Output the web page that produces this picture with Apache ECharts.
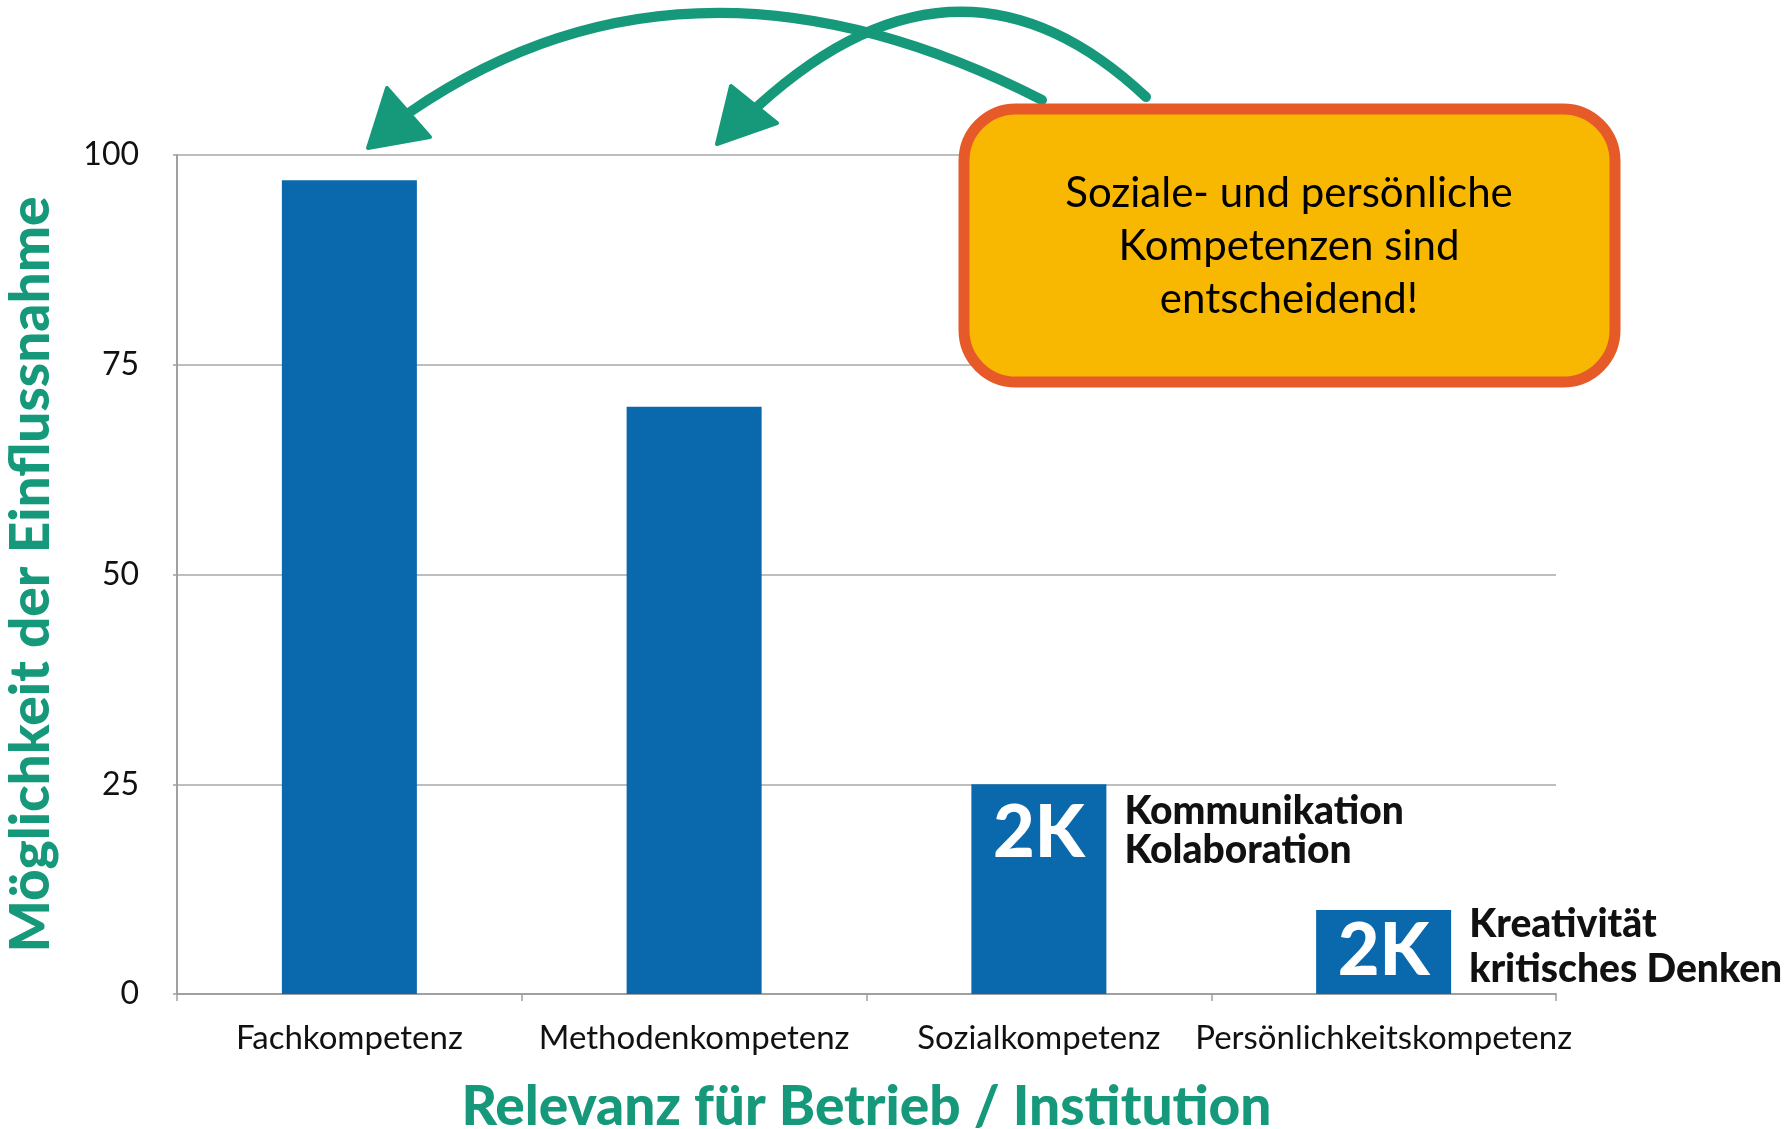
<!DOCTYPE html>
<html>
<head>
<meta charset="utf-8">
<script src="https://cdn.jsdelivr.net/npm/echarts@6/dist/echarts.min.js"></script>
<style>
  html, body { margin: 0; padding: 0; background: #fff; }
  #main { width: 1791px; height: 1129px; }
</style>
</head>
<body>
<div id="main"></div>
<script>
const categories = ['Fachkompetenz', 'Methodenkompetenz', 'Sozialkompetenz', 'Persönlichkeitskompetenz'];
const values = [97, 70, 25, 10];
const badges = ['', '', '2K', '2K'];
const notes = [[], [], ['Kommunikation', 'Kolaboration'], ['Kreativität', 'kritisches Denken']];
const calloutText = ['Soziale- und persönliche', 'Kompetenzen sind', 'entscheidend!'];

const GREEN = '#16997a';
const BLUE = '#0a68ad';
const FONT = 'Lato';

const chart = echarts.init(document.getElementById('main'));

chart.setOption({
  animation: false,
  backgroundColor: '#fff',
  textStyle: { fontFamily: FONT },
  grid: { left: 177, right: 235, top: 155, bottom: 135, outerBoundsMode: 'none', containLabel: false },
  xAxis: {
    type: 'category',
    data: categories,
    name: 'Relevanz für Betrieb / Institution',
    nameLocation: 'middle',
    nameGap: 86,
    nameTextStyle: { color: GREEN, fontSize: 55, fontWeight: 900, fontFamily: FONT },
    axisLine: { lineStyle: { color: '#a0a0a0', width: 2 } },
    axisTick: { show: true, length: 7, lineStyle: { color: '#a0a0a0', width: 1.5 } },
    axisLabel: { color: '#111', fontSize: 33, margin: 28, fontFamily: FONT, interval: 0 }
  },
  yAxis: {
    type: 'value',
    min: 0,
    max: 100,
    interval: 25,
    name: 'Möglichkeit der Einflussnahme',
    nameLocation: 'middle',
    nameGap: 118,
    nameTextStyle: { color: GREEN, fontSize: 55, fontWeight: 900, fontFamily: FONT },
    axisLine: { show: true, lineStyle: { color: '#a0a0a0', width: 2 } },
    axisTick: { show: true, length: 4, lineStyle: { color: '#a0a0a0', width: 1.5 } },
    splitLine: { lineStyle: { color: '#a8a8a8', width: 1.5 } },
    axisLabel: { color: '#111', fontSize: 32, margin: 38, fontFamily: FONT }
  },
  series: [{
    type: 'bar',
    barWidth: 135,
    itemStyle: { color: BLUE },
    data: values.map((v, i) => ({
      value: v,
      label: {
        show: !!badges[i],
        formatter: badges[i],
        position: i === 2 ? 'insideTop' : 'inside',
        distance: 14,
        color: '#fff',
        fontSize: 72,
        fontWeight: 900,
        fontFamily: FONT
      }
    }))
  }]
});

// annotations next to the small bars, placed from the bar geometry
const noteFirstLine = [0, 0, 27, 14];
const noteLineHeight = [0, 0, 39, 45];
const noteGraphics = [];
notes.forEach((lines, i) => {
  if (!lines.length) return;
  const p = chart.convertToPixel({ seriesIndex: 0 }, [i, values[i]]);
  noteGraphics.push({
    type: 'text',
    z: 10,
    x: p[0] + 135 / 2 + 18,
    y: p[1] + noteFirstLine[i] - noteLineHeight[i] / 2,
    style: {
      text: lines.join('\n'),
      font: '900 39px ' + FONT,
      fill: '#111',
      lineHeight: noteLineHeight[i],
      verticalAlign: 'top'
    }
  });
});

chart.setOption({
  graphic: [
    // hand-drawn arrows from the callout to the first two bars
    {
      type: 'bezierCurve', z: 5,
      shape: { x1: 1042, y1: 100, cpx1: 690, cpy1: -80, x2: 410, y2: 112 },
      style: { stroke: GREEN, lineWidth: 10, fill: null, lineCap: 'round' }
    },
    {
      type: 'polygon', z: 5,
      shape: { points: [[387, 88], [430, 137], [368, 148]] },
      style: { fill: GREEN, stroke: GREEN, lineWidth: 4, lineJoin: 'round' }
    },
    {
      type: 'bezierCurve', z: 5,
      shape: { x1: 1146, y1: 97, cpx1: 960, cpy1: -78, x2: 758, y2: 106 },
      style: { stroke: GREEN, lineWidth: 10, fill: null, lineCap: 'round' }
    },
    {
      type: 'polygon', z: 5,
      shape: { points: [[731, 86], [777, 123], [717, 144]] },
      style: { fill: GREEN, stroke: GREEN, lineWidth: 4, lineJoin: 'round' }
    },
    // callout box
    {
      type: 'rect', z: 20,
      shape: { x: 964, y: 109, width: 651, height: 273, r: 52 },
      style: { fill: '#f8b700', stroke: '#e65a2a', lineWidth: 11 }
    },
    {
      type: 'text', z: 21,
      x: 1289, y: 246,
      style: {
        text: calloutText.join('\n'),
        font: '42px ' + FONT,
        fill: '#000',
        align: 'center',
        verticalAlign: 'middle',
        lineHeight: 53
      }
    }
  ].concat(noteGraphics)
});
</script>
</body>
</html>
